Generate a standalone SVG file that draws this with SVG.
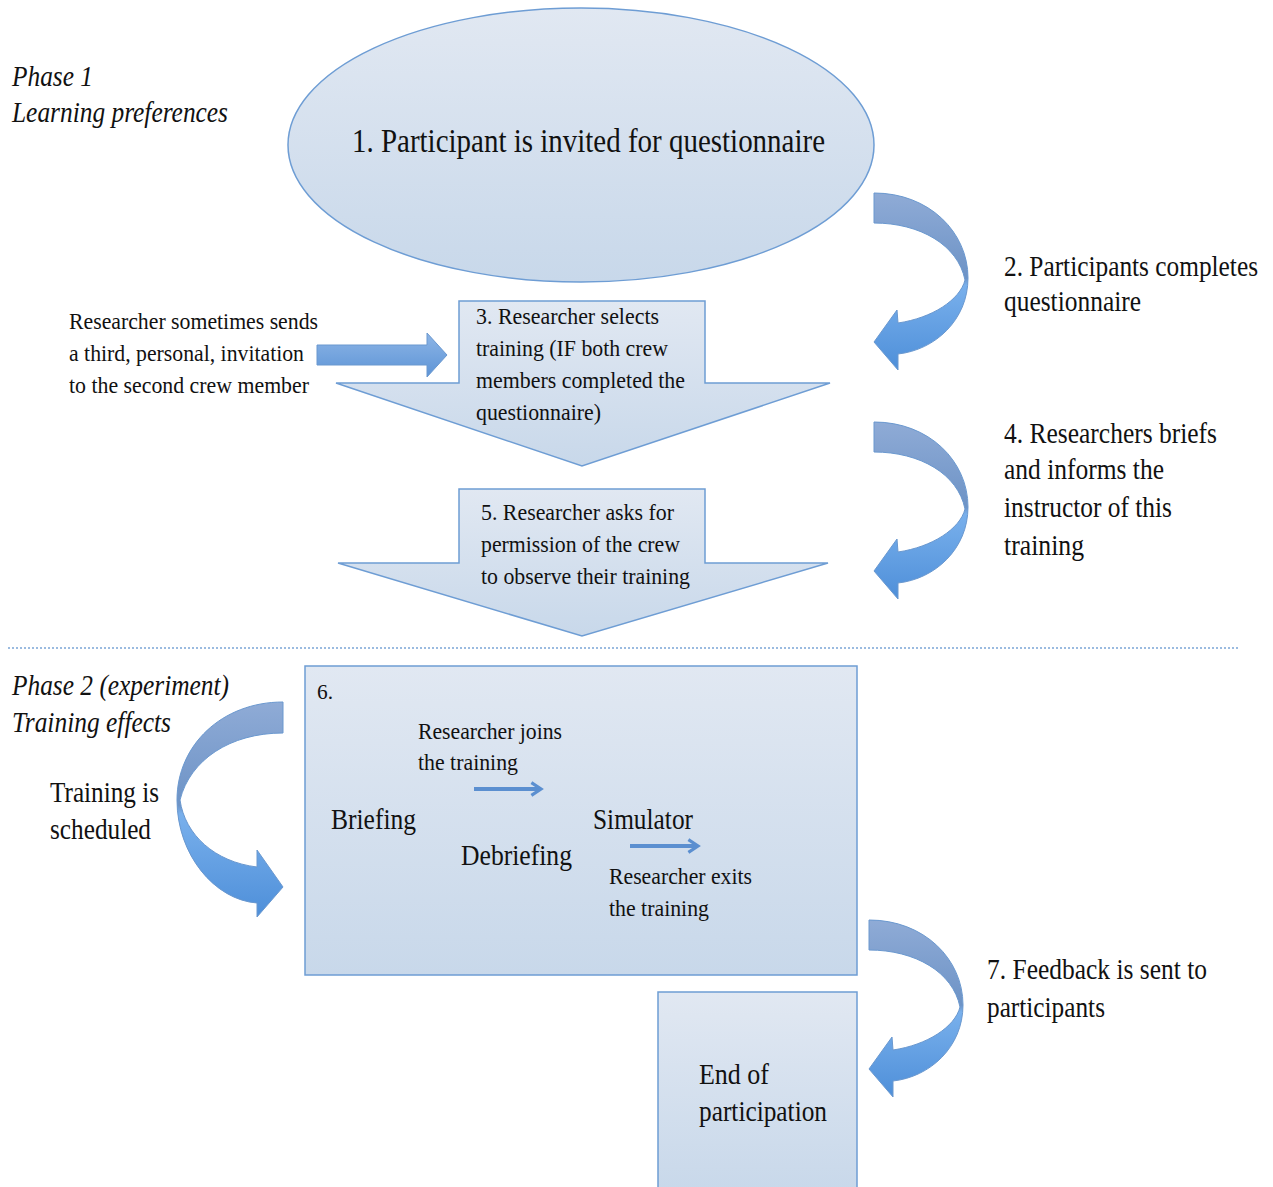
<svg xmlns="http://www.w3.org/2000/svg" width="1273" height="1187" viewBox="0 0 1273 1187" font-family="'Liberation Serif', 'Times New Roman', 'DejaVu Serif', serif">
<defs>
<linearGradient id="fillG" x1="0" y1="0" x2="0" y2="1">
<stop offset="0" stop-color="#e1e8f2"/>
<stop offset="1" stop-color="#c8d8ea"/>
</linearGradient>
<linearGradient id="curveG" x1="0" y1="0" x2="0" y2="1">
<stop offset="0" stop-color="#8fabd6"/>
<stop offset="0.48" stop-color="#6d93c6"/>
<stop offset="0.52" stop-color="#79b0ec"/>
<stop offset="1" stop-color="#4e8fd9"/>
</linearGradient>
<linearGradient id="straightG" x1="0" y1="0" x2="0" y2="1">
<stop offset="0" stop-color="#8db5e6"/>
<stop offset="1" stop-color="#5d94d6"/>
</linearGradient>
<marker id="head" viewBox="0 0 10 10" refX="8" refY="5" markerWidth="4" markerHeight="4" orient="auto" markerUnits="strokeWidth">
<path d="M2,1 L8,5 L2,9" fill="none" stroke="#5b8fd0" stroke-width="2"/>
</marker>
<style>
text{font-family:'Liberation Serif','Times New Roman','DejaVu Serif',serif;fill:#111;}
.it{font-style:italic;}
.shape{fill:url(#fillG);stroke:#6e9dd4;stroke-width:1.5;}
.curve{fill:url(#curveG);stroke:#6a98cf;stroke-width:1;}
.t28{font-size:29px;}
.t24{font-size:24px;}
.small{stroke:#5b8fd0;stroke-width:4;fill:none;}
</style>
</defs>

<g id="phase1-label">
<text class="it t28" x="12" y="86" textLength="81" lengthAdjust="spacingAndGlyphs">Phase 1</text>
<text class="it t28" x="12" y="122" textLength="216" lengthAdjust="spacingAndGlyphs">Learning preferences</text>
</g>

<g id="node1">
<ellipse class="shape" cx="581" cy="145" rx="293" ry="137"/>
<text x="352" y="152" font-size="34" textLength="473" lengthAdjust="spacingAndGlyphs">1. Participant is invited for questionnaire</text>
</g>

<g id="node2-label">
<text class="t28" x="1004" y="276" textLength="254" lengthAdjust="spacingAndGlyphs">2. Participants completes</text>
<text class="t28" x="1004" y="311" textLength="137" lengthAdjust="spacingAndGlyphs">questionnaire</text>
</g>

<g id="side-note">
<text class="t24" x="69" y="329" textLength="249" lengthAdjust="spacingAndGlyphs">Researcher sometimes sends</text>
<text class="t24" x="69" y="361" textLength="235" lengthAdjust="spacingAndGlyphs">a third, personal, invitation</text>
<text class="t24" x="69" y="393" textLength="240" lengthAdjust="spacingAndGlyphs">to the second crew member</text>
</g>

<g id="node3">
<path class="shape" d="M459,301 L705,301 L705,383 L830,383 L582,466 L336,383 L459,383 Z"/>
<text class="t24" x="476" y="324" textLength="183" lengthAdjust="spacingAndGlyphs">3. Researcher selects</text>
<text class="t24" x="476" y="356" textLength="192" lengthAdjust="spacingAndGlyphs">training (IF both crew</text>
<text class="t24" x="476" y="388" textLength="209" lengthAdjust="spacingAndGlyphs">members completed the</text>
<text class="t24" x="476" y="420" textLength="125" lengthAdjust="spacingAndGlyphs">questionnaire)</text>
</g>

<g id="node4-label">
<text class="t28" x="1004" y="443" textLength="213" lengthAdjust="spacingAndGlyphs">4. Researchers briefs</text>
<text class="t28" x="1004" y="479" textLength="160" lengthAdjust="spacingAndGlyphs">and informs the</text>
<text class="t28" x="1004" y="517" textLength="168" lengthAdjust="spacingAndGlyphs">instructor of this</text>
<text class="t28" x="1004" y="555" textLength="80" lengthAdjust="spacingAndGlyphs">training</text>
</g>

<g id="node5">
<path class="shape" d="M459,489 L705,489 L705,563 L828,563 L582,636 L338,563 L459,563 Z"/>
<text class="t24" x="481" y="520" textLength="193" lengthAdjust="spacingAndGlyphs">5. Researcher asks for</text>
<text class="t24" x="481" y="552" textLength="199" lengthAdjust="spacingAndGlyphs">permission of the crew</text>
<text class="t24" x="481" y="584" textLength="209" lengthAdjust="spacingAndGlyphs">to observe their training</text>
</g>

<g id="divider">
<line x1="8" y1="648" x2="1238" y2="648" stroke="#9bbbe0" stroke-width="2" stroke-dasharray="2 2"/>
</g>

<g id="phase2-label">
<text class="it t28" x="12" y="695" textLength="217" lengthAdjust="spacingAndGlyphs">Phase 2 (experiment)</text>
<text class="it t28" x="12" y="732" textLength="159" lengthAdjust="spacingAndGlyphs">Training effects</text>
<text class="t28" x="50" y="802" textLength="109" lengthAdjust="spacingAndGlyphs">Training is</text>
<text class="t28" x="50" y="839" textLength="101" lengthAdjust="spacingAndGlyphs">scheduled</text>
</g>

<g id="node6">
<rect class="shape" x="305" y="666" width="552" height="309"/>
<text x="317" y="699" font-size="22" textLength="16" lengthAdjust="spacingAndGlyphs">6.</text>
<text class="t24" x="418" y="739" textLength="144" lengthAdjust="spacingAndGlyphs">Researcher joins</text>
<text class="t24" x="418" y="770" textLength="100" lengthAdjust="spacingAndGlyphs">the training</text>
<text class="t28" x="331" y="829" textLength="85" lengthAdjust="spacingAndGlyphs">Briefing</text>
<text class="t28" x="593" y="829" textLength="100" lengthAdjust="spacingAndGlyphs">Simulator</text>
<text class="t28" x="461" y="865" textLength="111" lengthAdjust="spacingAndGlyphs">Debriefing</text>
<text class="t24" x="609" y="884" textLength="143" lengthAdjust="spacingAndGlyphs">Researcher exits</text>
<text class="t24" x="609" y="916" textLength="100" lengthAdjust="spacingAndGlyphs">the training</text>
</g>

<g id="node7-label">
<text class="t28" x="987" y="979" textLength="220" lengthAdjust="spacingAndGlyphs">7. Feedback is sent to</text>
<text class="t28" x="987" y="1017" textLength="118" lengthAdjust="spacingAndGlyphs">participants</text>
</g>

<g id="node8">
<rect class="shape" x="658" y="992" width="199" height="200"/>
<text class="t28" x="699" y="1084" textLength="70" lengthAdjust="spacingAndGlyphs">End of</text>
<text class="t28" x="699" y="1121" textLength="128" lengthAdjust="spacingAndGlyphs">participation</text>
</g>

<g id="connectors">
<path class="curve" d="M874,193 C929,193 968,232 968,278 C968,320 935,350 898,354 L898,370 L874,342 L897,310 L898,323 C932,318 960,300 965,280 C958,245 920,223 874,223 Z"/>
<path class="curve" transform="translate(0,229)" d="M874,193 C929,193 968,232 968,278 C968,320 935,350 898,354 L898,370 L874,342 L897,310 L898,323 C932,318 960,300 965,280 C958,245 920,223 874,223 Z"/>
<path class="curve" transform="translate(-5,727)" d="M874,193 C929,193 968,232 968,278 C968,320 935,350 898,354 L898,370 L874,342 L897,310 L898,323 C932,318 960,300 965,280 C958,245 920,223 874,223 Z"/>
<path class="curve" d="M283,702 C222,702 177,745 177,800 C177,855 215,900 257,903 L257,917 L283,887 L257,850 L257,867 C215,862 185,835 180,800 C190,760 230,733 283,733 Z"/>
<path fill="url(#straightG)" stroke="#6a98cf" stroke-width="1" d="M317,345 L427,345 L427,333 L447,355 L427,377 L427,365 L317,365 Z"/>
<line class="small" x1="474" y1="789" x2="541" y2="789" marker-end="url(#head)"/>
<line class="small" x1="630" y1="846" x2="698" y2="846" marker-end="url(#head)"/>
</g>
</svg>
